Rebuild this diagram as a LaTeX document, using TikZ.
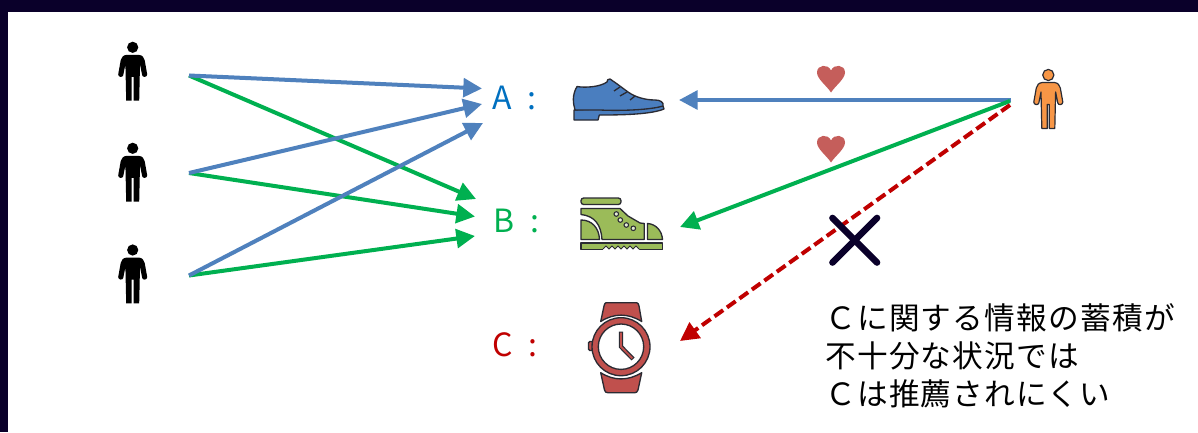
\documentclass[tikz,border=0pt]{standalone}
\usepackage{fontspec}
\setmainfont{Noto Sans CJK JP}
\newfontfamily\jpfont[LetterSpace=4]{Noto Sans CJK JP}
\usetikzlibrary{arrows.meta}
\definecolor{frameNavy}{HTML}{0A002A}
\definecolor{lineBlue}{HTML}{4F81BD}
\definecolor{lineGreen}{HTML}{00B050}
\definecolor{lineRed}{HTML}{C00000}
\definecolor{txtBlue}{HTML}{0070C0}
\definecolor{iconDark}{HTML}{2B2B33}
\definecolor{shoeBlue}{HTML}{4A7EBF}
\definecolor{bootGreen}{HTML}{9BBB59}
\definecolor{watchRed}{HTML}{C0504D}
\definecolor{personOrange}{HTML}{F79646}
\tikzset{
  x=0.75pt,y=-0.75pt,
  link/.style={line width=3pt,-{Triangle[length=14pt,width=14pt]}},
  bluelink/.style={link,draw=lineBlue,{-{Triangle[length=14pt,width=14pt,fill=lineBlue]}}},
  greenlink/.style={link,draw=lineGreen},
  redlink/.style={line width=3pt,draw=lineRed,dash pattern=on 8pt off 3.5pt,-{Triangle[length=14pt,width=14pt]}},
  icon/.style={draw=iconDark,line width=1pt,line join=round},
  label/.style={font=\fontsize{24}{28}\selectfont,anchor=west,inner sep=0pt},
  note/.style={font=\jpfont\fontsize{23}{28.5}\selectfont,anchor=north west,inner sep=0pt,align=left},
  person/.pic={
    \path[pic actions] (0,0) circle[radius=5.6];
    \path[pic actions] (0,7.5) -- (6,7.5) .. controls (10,8) and (11,10) .. (12,13)
      -- (14.5,27) .. controls (14.6,30) and (10,30.5) .. (9.5,28) -- (7.3,17) -- (6.5,53.4) -- (1,53.4) -- (1,29.5)
      -- (-1,29.5) -- (-1,53.4) -- (-6.5,53.4) -- (-7.3,17) -- (-9.5,28)
      .. controls (-10,30.5) and (-14.6,30) .. (-14.5,27) -- (-12,13)
      .. controls (-11,10) and (-10,8) .. (-6,7.5) -- cycle;
  },
  heart/.pic={
    \fill[watchRed!92!white] (0,26.5) .. controls (-4,20) and (-14,13) .. (-14,6.5)
      .. controls (-14,-1.5) and (-3,-2.5) .. (0,4.5)
      .. controls (3,-2.5) and (14,-1.5) .. (14,6.5)
      .. controls (14,13) and (4,20) .. (0,26.5) -- cycle;
  },
}
\begin{document}
\begin{tikzpicture}
\useasboundingbox (0,0) rectangle (1198,432);
\fill[white] (0,0) rectangle (1198,432);
\fill[frameNavy] (0,0) rectangle (1198,12);
\fill[frameNavy] (0,0) rectangle (8,432);

% left persons
\pic[fill=black] at (132.7,47.3) {person};
\pic[fill=black] at (132.7,148.3) {person};
\pic[fill=black] at (132.7,250) {person};
% right person
\pic[fill=personOrange,draw=iconDark,line width=0.9pt,line join=round] at (1048.3,75) {person};

% connector ends
\coordinate (u1) at (189,75.5);
\coordinate (u2) at (189,173);
\coordinate (u3) at (189,275.5);
\coordinate (aTop) at (482,88.5);
\coordinate (aMid) at (482,104);
\coordinate (aLow) at (483,123);
\coordinate (bTop) at (476,199);
\coordinate (bMid) at (475,216.5);
\coordinate (bLow) at (475,236);
\coordinate (v) at (1011,100);
\coordinate (shoeEnd) at (679,100);
\coordinate (bootEnd) at (680,227);
\coordinate (watchEnd) at (680,341);
\coordinate (vG) at (1010,101);
\coordinate (vR) at (1010,105);

\draw[greenlink] (u1) -- (bTop);
\draw[greenlink] (u2) -- (bMid);
\draw[greenlink] (u3) -- (bLow);
\draw[bluelink] (u1) -- (aTop);
\draw[bluelink] (u2) -- (aMid);
\draw[bluelink] (u3) -- (aLow);
\draw[bluelink] (v) -- (shoeEnd);
\draw[greenlink] (vG) -- (bootEnd);
\draw[redlink] (vR) -- (watchEnd);

% labels
\node[label,text=txtBlue] (labelA) at (492,98) {A\hspace{11.5pt}:};
\node[label,text=lineGreen] (labelB) at (493,221) {B\hspace{12.5pt}:};
\node[label,text=lineRed] (labelC) at (492,345) {C\hspace{11.5pt}:};

% shoe
\path[icon,fill=shoeBlue] (574,110) -- (574,120) -- (598,120) -- (599.3,115)
  .. controls (615,115) and (650,115) .. (664,109) -- (663,106) -- cycle;
\path[icon,fill=shoeBlue] (577,86.5) .. controls (572,95) and (573,103) .. (575,110)
  -- (600,110) .. controls (620,111) and (650,110) .. (663,106)
  .. controls (664,102) and (660,100) .. (655,100)
  .. controls (645,100) and (635,97) .. (628,92)
  -- (616.5,83.5) -- (610,79) .. controls (608,79) and (607,80) .. (607,82)
  .. controls (600,87) and (585,88) .. (577,86.5) -- cycle;
\draw[icon] (614,91) -- (620,87) (620,96) -- (627,92) (630,100) -- (635,96);

% boot
\path[icon,fill=bootGreen,rounded corners=2pt] (581,198) rectangle (621,204.5);
\path[icon,fill=bootGreen] (581,208.5) -- (620,208.5) -- (628,216) -- (640,223) -- (644.3,223.5) -- (644.3,239.5)
  -- (602,239.5) .. controls (601,225) and (595,216) .. (581,214.5) -- cycle;
\path[icon,fill=bootGreen] (581,220) .. controls (592,220) and (599,228) .. (599.5,239.5) -- (581,239.5) -- cycle;
\path[icon,fill=bootGreen] (647.5,223.5) .. controls (656,224) and (662,231) .. (662.5,239.5) -- (647.5,239.5) -- cycle;
\path[icon,fill=bootGreen] (581,243) -- (662.5,243) -- (662.5,249.5) -- (581,249.5) -- cycle;
\fill[white] (603,249) -- (606,246) -- (609,249) -- (612,246) -- (615,249) -- (618,246) -- (621,249) -- (624,246) -- (627,249) -- (630,246) -- (633,249) -- (636,246) -- (639,249) -- (639,250) -- (603,250) -- cycle;
\draw[iconDark,line width=0.7pt] (603,249) -- (606,246) -- (609,249) -- (612,246) -- (615,249) -- (618,246) -- (621,249) -- (624,246) -- (627,249) -- (630,246) -- (633,249) -- (636,246) -- (639,249);
\foreach \ex/\ey in {616.3/214,620.3/220,626.3/225,633.3/228.3}
  \draw[iconDark,fill=bootGreen!25!white,line width=0.8pt] (\ex,\ey) circle[radius=2.3];

% watch
\path[icon,fill=watchRed] (606,302.7) -- (636.7,302.7) .. controls (638,303) and (638.5,304) .. (639,306)
  -- (641.7,321.5) .. controls (628,313) and (614,313) .. (600.7,321.5) -- (604,306) .. controls (604.5,304) and (605,303) .. (606,302.7) -- cycle;
\path[icon,fill=watchRed] (600.7,372.7) .. controls (614,381) and (628,381) .. (641.7,372.7)
  -- (638,390) .. controls (637.5,392) and (636,392.7) .. (635,392.7) -- (608,392.7) .. controls (606,392.7) and (605,392) .. (604.5,390) -- cycle;
\path[icon,fill=watchRed,rounded corners=1pt] (593.5,341.5) -- (588.5,341.5) -- (588.5,350.5) -- (593.5,350.5) -- cycle;
\path[icon,fill=watchRed] (621,346.7) circle[radius=29];
\path[icon,fill=white] (621,346.7) circle[radius=22.7];
\draw[iconDark,line width=3.2pt,line join=miter] (621,331.7) -- (621,346.7) -- (633,359);
\draw[watchRed,line width=1.4pt,line join=miter] (621,332.6) -- (621,346.7) -- (632.3,358.3);

% hearts
\pic at (831,66) {heart};
\pic at (831,136) {heart};

% cross
\draw[frameNavy,line width=5pt,line cap=round] (832.5,218) -- (877,262.5);
\draw[frameNavy,line width=5pt,line cap=round] (877,218) -- (832.5,262.5);

% note
\node[note] (note) at (825,303) {Ｃに関する情報の蓄積が\\不十分な状況では\\Ｃは推薦されにくい};
\end{tikzpicture}
\end{document}
